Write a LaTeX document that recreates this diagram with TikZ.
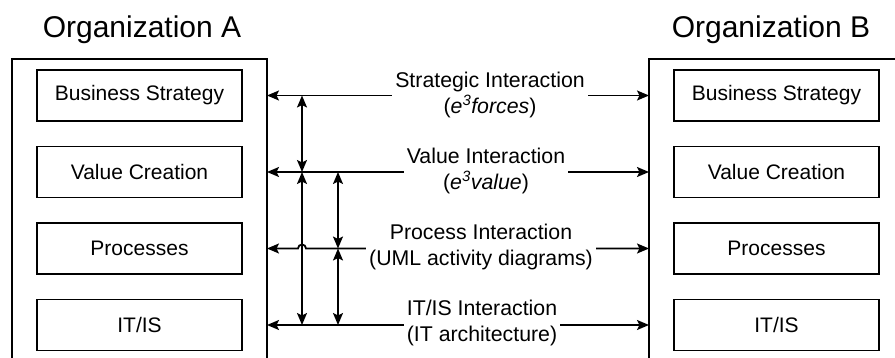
\documentclass[tikz,border=0pt]{standalone}
\usepackage{fontspec}
\setmainfont{Liberation Sans}
\usetikzlibrary{arrows.meta}
\begin{document}
\begin{tikzpicture}[x=1pt,y=-1pt,
  lw/.style={line width=1.8pt},
  org/.style={draw,lw,outer sep=0pt,inner sep=0pt,anchor=north west,minimum height=360pt},
  layer/.style={draw,lw,outer sep=0pt,inner sep=0pt,minimum width=205pt,minimum height=51pt,font=\fontsize{21}{25}\selectfont},
  title/.style={inner sep=0pt,font=\fontsize{30}{35}\selectfont},
  inter/.style={fill=white,align=center,inner xsep=3pt,inner ysep=0pt,font=\fontsize{21.3}{26}\selectfont},
  link/.style={lw,{Stealth[length=12pt,width=10pt,inset=2.5pt]}-{Stealth[length=12pt,width=10pt,inset=2.5pt]}}
]
\useasboundingbox (0,0) rectangle (895,358);
\clip (0,0) rectangle (895,358);
\fill[white] (0,0) rectangle (895,358);

% titles
\node[title] (ta) at (142,30) {Organization A};
\node[title] (tb) at (771,30) {Organization B};

% organisation frames (open at the bottom / right)
\node[org,minimum width=255pt] (orgA) at (12,59) {};
\node[org,minimum width=300pt] (orgB) at (649,59) {};

% layers of A
\node[layer] (a1) at (139.5,95.5) {Business Strategy};
\node[layer] (a2) at (139.5,172) {Value Creation};
\node[layer] (a3) at (139.5,248.5) {Processes};
\node[layer] (a4) at (139.5,325) {IT/IS};
% layers of B
\node[layer] (b1) at (776.5,95.5) {Business Strategy};
\node[layer] (b2) at (776.5,172) {Value Creation};
\node[layer] (b3) at (776.5,248.5) {Processes};
\node[layer] (b4) at (776.5,325) {IT/IS};

% horizontal interactions
\draw[link] (orgA.east |- a1) -- (orgB.west |- b1);
\draw[link] (orgA.east |- a2) -- (orgB.west |- b2);
\draw[link] (orgA.east |- a3) -- (298,0 |- a3) arc[start angle=180,end angle=0,radius=4pt] -- (orgB.west |- b3);
\draw[link] (orgA.east |- a4) -- (orgB.west |- b4);

% vertical links
\draw[link] (302,0 |- a1) -- (302,0 |- a2);
\draw[link] (302,0 |- a2) -- (302,0 |- a4);
\draw[link] (338,0 |- a2) -- (338,0 |- a3);
\draw[link] (338,0 |- a3) -- (338,0 |- a4);

% labels
\node[inter] (l1) at (490,95) {Strategic Interaction\\(\textit{e}\textsuperscript{\itshape 3}\textit{forces})};
\node[inter] (l2) at (486,171) {Value Interaction\\(\textit{e}\textsuperscript{\itshape 3}\textit{value})};
\node[inter] (l3) at (481,247) {Process Interaction\\(UML activity diagrams)};
\node[inter] (l4) at (482,323) {IT/IS Interaction\\(IT architecture)};
\end{tikzpicture}
\end{document}
